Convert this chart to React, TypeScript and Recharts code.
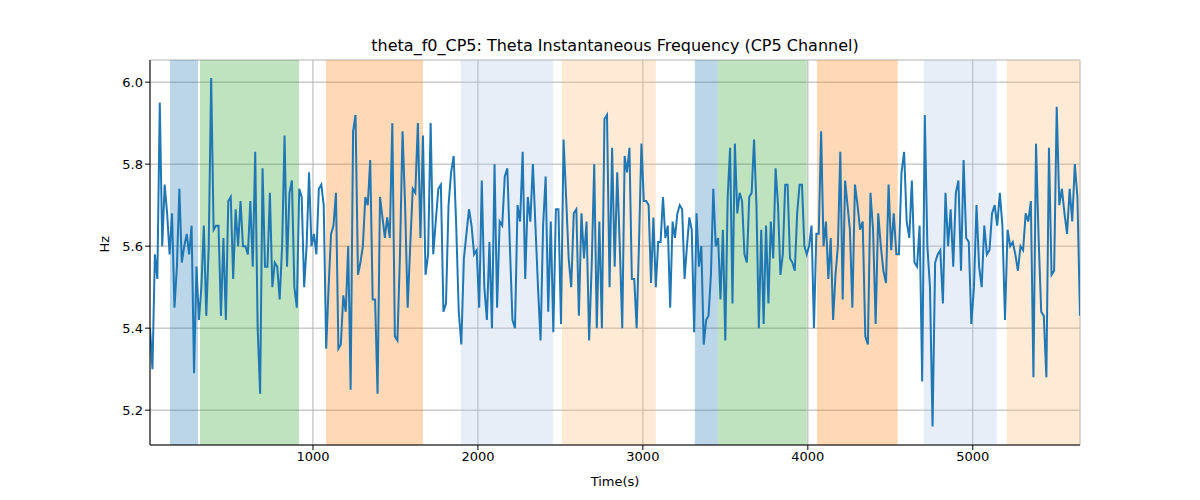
import React from 'react';
import { LineChart, Line, XAxis, YAxis, CartesianGrid, ReferenceArea } from 'recharts';

const seg1 = [5.4,5.3,5.58,5.52,5.95,5.6,5.75,5.68,5.58,5.68,5.45,5.55,5.74,5.56,5.6,5.63,5.58,5.65,5.29,5.55,5.42,5.5,5.65,5.43,5.6,6.01,5.64,5.65,5.65,5.43,5.62,5.42,5.71,5.72,5.52,5.69,5.6,5.71,5.6,5.6,5.58,5.71,5.55,5.83,5.4,5.24,5.79,5.55,5.55,5.73,5.5,5.56,5.55,5.47,5.6,5.87,5.55,5.73,5.76,5.5,5.45,5.74,5.72,5.5,5.6,5.78,5.6,5.63,5.58,5.74,5.75,5.7,5.35,5.5,5.63,5.65,5.73,5.35,5.36,5.48,5.44,5.6,5.25,5.88,5.92,5.53,5.56,5.6,5.72,5.7,5.81,5.47,5.47,5.24,5.72,5.67,5.62];
const seg2 = [5.67,5.62,5.9,5.38,5.37,5.58,5.88,5.7,5.45,5.6,5.74,5.73,5.9,5.62,5.87,5.53,5.58,5.9,5.58,5.66,5.74,5.75,5.44,5.46,5.7,5.78,5.82,5.65,5.44,5.36,5.57,5.63,5.69,5.65,5.58,5.59,5.45,5.76,5.5,5.42,5.61,5.4,5.8,5.45,5.66,5.65,5.77,5.79,5.6,5.42,5.4,5.7,5.66,5.83,5.52,5.72,5.66,5.8,5.65,5.5,5.37,5.65,5.77,5.44,5.66,5.39,5.69,5.69,5.41,5.86,5.72,5.57,5.5,5.68,5.69,5.43,5.68,5.57,5.66,5.37,5.55,5.8,5.4,5.66,5.4,5.91,5.92,5.5,5.84,5.55,5.78,5.6];
const seg3 = [5.4,5.82,5.78,5.84,5.52,5.52,5.4,5.61,5.85,5.71,5.71,5.7,5.51,5.67,5.5,5.61,5.61,5.72,5.62,5.65,5.45,5.66,5.62,5.68,5.7,5.69,5.52,5.6,5.67,5.64,5.39,5.68,5.55,5.6,5.36,5.42,5.43,5.53,5.74,5.6,5.62,5.47,5.64,5.37,5.72,5.84,5.46,5.85,5.68,5.73,5.71,5.58,5.56,5.72,5.73,5.86,5.7,5.4,5.64,5.41,5.65,5.46,5.66,5.57,5.79,5.7,5.53,5.58,5.75,5.75,5.57,5.56,5.54,5.68,5.75,5.75,5.6,5.58,5.6,5.65,5.4,5.63,5.63,5.88,5.6,5.66,5.52,5.62,5.42,5.53,5.6,5.83,5.47,5.76,5.7,5.64];
const seg4 = [5.45,5.75,5.7,5.64,5.66,5.38,5.36,5.73,5.64,5.41,5.68,5.6,5.54,5.51,5.75,5.59,5.68,5.58,5.58,5.78,5.83,5.66,5.62,5.76,5.56,5.55,5.65,5.27,5.92,5.6,5.5,5.16,5.56,5.58,5.59,5.46,5.73,5.6,5.69,5.55,5.73,5.76,5.54,5.81,5.62,5.61,5.41,5.5,5.7,5.55,5.5,5.65,5.58,5.59,5.68,5.7,5.65,5.73,5.65,5.42,5.64,5.6,5.61,5.58,5.54,5.6,5.59,5.68,5.66,5.71,5.28,5.85,5.62,5.44,5.43,5.28,5.84,5.53,5.54,5.94,5.7,5.74,5.68,5.63,5.74,5.66,5.8,5.72,5.43];

const segRanges = [[12, 1436], [1450, 2860], [2875, 4255], [4270, 5650]];
const segs = [seg1, seg2, seg3, seg4];
const data: { t: number; v: number }[] = [];
segs.forEach((s, i) => {
  const [a, b] = segRanges[i];
  s.forEach((v, j) => data.push({ t: a + ((b - a) * j) / (s.length - 1), v }));
});

const bands = [
  { x1: 133, x2: 303, c: '#1f77b4' },
  { x1: 315, x2: 915, c: '#2ca02c' },
  { x1: 1079, x2: 1667, c: '#ff7f0e' },
  { x1: 1897, x2: 2455, c: '#aec7e8' },
  { x1: 2509, x2: 3079, c: '#ffbb78' },
  { x1: 3315, x2: 3455, c: '#1f77b4' },
  { x1: 3455, x2: 3994, c: '#2ca02c' },
  { x1: 4055, x2: 4545, c: '#ff7f0e' },
  { x1: 4703, x2: 5145, c: '#aec7e8' },
  { x1: 5206, x2: 5650, c: '#ffbb78' },
];
const xTicks = [1000, 2000, 3000, 4000, 5000];
const yTicks = [5.2, 5.4, 5.6, 5.8, 6.0];

export default function App() {
  return (
    <div style={{ position: 'absolute', left: 0, top: 0, width: 1200, height: 500, background: '#fff', fontFamily: 'DejaVu Sans' }}>
      <div style={{ position: 'absolute', top: 36, left: 150, width: 930, textAlign: 'center', fontSize: 16 }}>
        theta_f0_CP5: Theta Instantaneous Frequency (CP5 Channel)
      </div>
      <LineChart width={1200} height={500} data={data} margin={{ top: 60, right: 120, bottom: 0, left: 0 }}>
        <CartesianGrid stroke="#b0b0b0" horizontal vertical />
        {bands.map((b, i) => (
          <ReferenceArea key={i} x1={b.x1} x2={b.x2} fill={b.c} fillOpacity={0.3} stroke="none" ifOverflow="hidden" />
        ))}
        <XAxis dataKey="t" type="number" domain={[12, 5650]} ticks={xTicks} allowDataOverflow height={55}
          stroke="#000" tick={{ fill: '#000', fontSize: 13 }} tickSize={5}
          label={{ value: 'Time(s)', position: 'insideBottom', offset: 14, fill: '#000', fontSize: 13 }} />
        <XAxis xAxisId="top" orientation="top" dataKey="t" type="number" domain={[12, 5650]} tick={false} height={0} stroke="#000" />
        <YAxis type="number" domain={[5.115, 6.054]} ticks={yTicks} allowDataOverflow width={150}
          stroke="#000" tick={{ fill: '#000', fontSize: 13 }} tickSize={5}
          tickFormatter={(v: number) => v.toFixed(1)}
          label={{ value: 'Hz', angle: -90, position: 'insideLeft', offset: 104, fill: '#000', fontSize: 13 }} />
        <YAxis yAxisId="right" orientation="right" domain={[5.115, 6.054]} tick={false} width={0} stroke="#000" />
        <Line dataKey="v" stroke="#1f77b4" strokeWidth={2} dot={false} isAnimationActive={false} />
      </LineChart>
    </div>
  );
}
